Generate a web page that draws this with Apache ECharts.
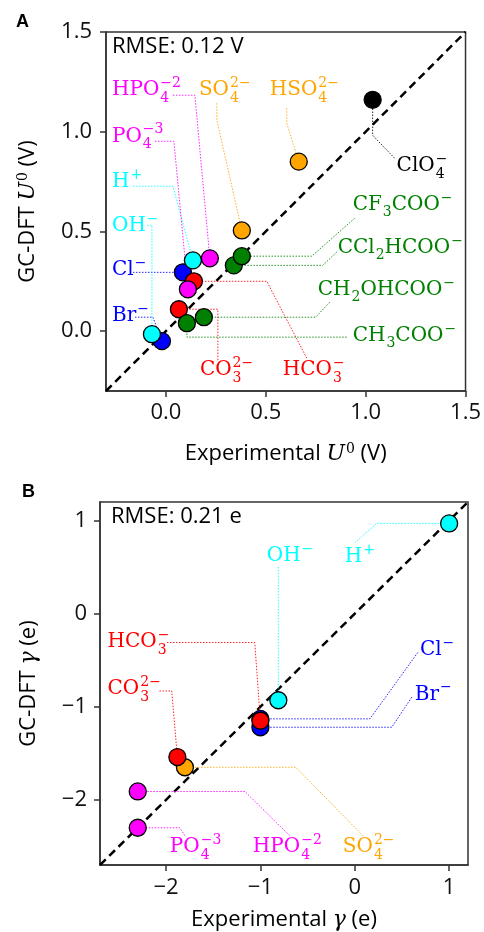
<!DOCTYPE html>
<html>
<head>
<meta charset="UTF-8">
<title>GC-DFT vs experiment</title>
<script src="https://cdn.jsdelivr.net/npm/echarts@6/dist/echarts.min.js"></script>
<style>
  html, body { margin: 0; padding: 0; background: #fff; }
  #main { width: 484px; height: 932px; }
</style>
</head>
<body>
<div id="main"></div>
<script>
// ---- panel A : standard potential U0 (V) ----
// label markup: {_x} = subscript, {^x} = superscript
var ionsA = ['Cl{^−}', 'Br{^−}', 'H{^+}', 'OH{^−}', 'CO{_3}{^2−}', 'HCO{_3}{^−}', 'PO{_4}{^−3}', 'HPO{_4}{^−2}',
  'CH{_3}COO{^−}', 'CH{_2}OHCOO{^−}', 'CCl{_2}HCOO{^−}', 'CF{_3}COO{^−}', 'SO{_4}{^2−}', 'HSO{_4}{^2−}', 'ClO{_4}{^−}'];
var groupA = ['halide', 'halide', 'water', 'water', 'carbonate', 'carbonate', 'phosphate', 'phosphate',
  'carboxylate', 'carboxylate', 'carboxylate', 'carboxylate', 'sulfate', 'sulfate', 'perchlorate'];
var expA = [0.085, -0.02, 0.135, -0.07, 0.065, 0.14, 0.11, 0.22, 0.105, 0.19, 0.34, 0.38, 0.38, 0.665, 1.035];
var dftA = [0.295, -0.05, 0.355, -0.015, 0.11, 0.25, 0.21, 0.365, 0.04, 0.07, 0.33, 0.376, 0.505, 0.85, 1.16];
var ticksA = [0, 0.5, 1.0, 1.5];

// ---- panel B : electrosorption valency gamma (e) ----
var ionsB = ['Cl{^−}', 'Br{^−}', 'SO{_4}{^2−}', 'OH{^−}', 'H{^+}', 'PO{_4}{^−3}', 'HPO{_4}{^−2}', 'CO{_3}{^2−}', 'HCO{_3}{^−}'];
var groupB = ['halide', 'halide', 'sulfate', 'water', 'water', 'phosphate', 'phosphate', 'carbonate', 'carbonate'];
var expB = [-1.0, -1.0, -1.8, -0.81, 1.0, -2.3, -2.3, -1.88, -1.0];
var dftB = [-1.13, -1.22, -1.65, -0.93, 0.97, -2.3, -1.91, -1.54, -1.15];
var ticksB = [-2, -1, 0, 1];

// annotation layout (data units): text anchor, leader start, leader elbow
var textPosA = [[-0.27, 0.306], [-0.27, 0.075], [-0.27, 0.747], [-0.27, 0.526], [0.17, -0.195], [0.585, -0.195],
  [-0.27, 0.977], [-0.27, 1.208], [0.935, -0.025], [0.76, 0.206], [0.86, 0.416], [0.935, 0.632],
  [0.165, 1.208], [0.52, 1.208], [1.155, 0.827]];
var leaderA = [[-0.165, 0.295, -0.165, 0.295], [-0.155, 0.07, -0.065, 0.07], [-0.165, 0.727, 0.035, 0.727],
  [-0.095, 0.531, -0.07, 0.531], [0.26, -0.145, 0.26, 0.11], [0.705, -0.135, 0.505, 0.25],
  [-0.055, 0.952, 0.04, 0.952], [0.035, 1.183, 0.145, 1.183], [0.905, -0.03, 0.105, -0.03],
  [0.82, 0.145, 0.75, 0.07], [0.855, 0.396, 0.785, 0.33], [0.945, 0.566, 0.73, 0.376],
  [0.255, 1.143, 0.255, 1.058], [0.605, 1.118, 0.605, 1.043], [1.145, 0.867, 1.035, 0.982]];
var textPosB = [[0.69, -0.385], [0.636, -0.866], [-0.127, -2.5], [-0.933, 0.62], [-0.106, 0.61],
  [-1.96, -2.5], [-1.08, -2.5], [-2.62, -0.81], [-2.62, -0.3]];
var leaderB = [[0.668, -0.417, 0.16, -1.13], [0.604, -0.898, 0.392, -1.22], [0.085, -2.385, -0.625, -1.65],
  [-0.81, 0.503, -0.81, 0.503], [0.0, 0.76, 0.233, 0.97], [-1.8, -2.385, -1.855, -2.3],
  [-0.69, -2.385, -1.165, -1.91], [-2.07, -0.83, -1.94, -0.83], [-1.99, -0.31, -1.06, -0.31]];

var colorOf = {
  halide: '#0000ff', water: '#00ffff', carbonate: '#ff0000', phosphate: '#ff00ff',
  carboxylate: '#008000', sulfate: '#ffa500', perchlorate: '#000000'
};

var SERIF = '"DejaVu Serif"';
var SANS = '"Open Sans"';
var measureCtx = document.createElement('canvas').getContext('2d');
function textWidth(s, size) {
  measureCtx.font = size + 'px ' + SERIF;
  return measureCtx.measureText(s).width;
}

// 'CO{_3}{^2−}' -> [{base:'CO'}, {sub:'3', sup:'2−'}]
function parseLabel(str) {
  var parts = [], re = /\{([_^])([^}]*)\}|([^{]+)/g, m;
  while ((m = re.exec(str))) {
    if (m[3]) { parts.push({ base: m[3] }); continue; }
    var last = parts[parts.length - 1];
    if (!last || last.base !== undefined) { last = {}; parts.push(last); }
    if (m[1] === '_') last.sub = m[2]; else last.sup = m[2];
  }
  return parts;
}

function txt(s, x, y, size, col) {
  return {
    type: 'text',
    style: {
      text: s, x: x, y: y, fill: col, font: size + 'px ' + SERIF,
      textAlign: 'left', textVerticalAlign: 'middle', align: 'left', verticalAlign: 'middle'
    }
  };
}

function labelRenderer(ions, groups) {
  return function (params, api) {
    var p = api.coord([api.value(0), api.value(1)]);
    var col = colorOf[groups[params.dataIndex]];
    var x = p[0], kids = [];
    parseLabel(ions[params.dataIndex]).forEach(function (pt) {
      if (pt.base !== undefined) {
        kids.push(txt(pt.base, x, p[1], 20, col));
        x += textWidth(pt.base, 20);
      } else {
        var w = 0;
        if (pt.sub) { kids.push(txt(pt.sub, x + 1, p[1] + (pt.sup ? 8.5 : 7), 14, col)); w = textWidth(pt.sub, 14); }
        if (pt.sup) { kids.push(txt(pt.sup, x + 1, p[1] - 6.5, 14, col)); w = Math.max(w, textWidth(pt.sup, 14)); }
        x += w + 1;
      }
    });
    return { type: 'group', children: kids };
  };
}

function leaderRenderer(leaders, groups) {
  return function (params, api) {
    var L = leaders[params.dataIndex];
    var pts = [api.coord([L[0], L[1]]), api.coord([L[2], L[3]]), api.coord([api.value(0), api.value(1)])];
    return {
      type: 'polyline',
      shape: { points: pts },
      style: { stroke: colorOf[groups[params.dataIndex]], lineWidth: 1, fill: null, lineDash: [1.5, 1.5], opacity: 0.85 }
    };
  };
}

function panelSeries(k, ions, groups, exp, dft, textPos, leaders, lo, hi) {
  var pts = exp.map(function (x, i) {
    return { value: [x, dft[i]], itemStyle: { color: colorOf[groups[i]] } };
  });
  return [
    {
      type: 'line', xAxisIndex: k, yAxisIndex: k, data: [[lo, lo], [hi, hi]],
      symbol: 'none', silent: true, z: 2,
      lineStyle: { color: '#000', width: 2.5, type: [8, 5] }
    },
    {
      type: 'custom', xAxisIndex: k, yAxisIndex: k, z: 3, silent: true,
      renderItem: leaderRenderer(leaders, groups),
      data: exp.map(function (x, i) { return [x, dft[i]]; })
    },
    {
      type: 'scatter', xAxisIndex: k, yAxisIndex: k, z: 4, symbolSize: 17,
      itemStyle: { borderColor: '#000', borderWidth: 1.3, opacity: 1 },
      data: pts
    },
    {
      type: 'custom', xAxisIndex: k, yAxisIndex: k, z: 5, silent: true,
      renderItem: labelRenderer(ions, groups),
      data: textPos
    }
  ];
}

function fmtA(v) { return v.toFixed(1); }
function fmtB(v) { return String(Math.round(v)).replace('-', '−'); }

var nameRich = {
  i: { fontFamily: SERIF, fontStyle: 'italic', fontSize: 22, color: '#000' },
  s: { fontFamily: SERIF, fontSize: 14, color: '#000', verticalAlign: 'top', padding: [0, 0, 10, 1] }
};

function axis(k, pos, lo, hi, ticks, fmt, name, gap, margin) {
  return {
    type: 'value', gridIndex: k, position: pos, min: lo, max: hi,
    name: name, nameLocation: 'middle', nameGap: gap,
    nameTextStyle: { fontFamily: SANS, fontSize: 22, color: '#000', rich: nameRich },
    axisLine: { show: true, onZero: false, lineStyle: { color: '#333', width: 1.5 } },
    axisTick: { show: true, customValues: ticks, length: 6, lineStyle: { color: '#333', width: 1.5 } },
    axisLabel: { customValues: ticks, formatter: fmt, margin: margin, fontFamily: SANS, fontSize: 22, color: '#111' },
    splitLine: { show: false }
  };
}

var chart = echarts.init(document.getElementById('main'), null, { renderer: 'canvas' });
chart.setOption({
  backgroundColor: '#fff',
  animation: false,
  grid: [
    { left: 106, top: 32, width: 360, height: 359, show: true, borderColor: '#333', borderWidth: 1.5 },
    { left: 100, top: 502, width: 368, height: 366, show: true, borderColor: '#333', borderWidth: 1.5 }
  ],
  xAxis: [
    axis(0, 'bottom', -0.3, 1.5, ticksA, fmtA, 'Experimental {i|U}{s|0} (V)', 51, 11),
    axis(1, 'bottom', -2.7, 1.2, ticksB, fmtB, 'Experimental {i|γ} (e)', 44, 12)
  ],
  yAxis: [
    axis(0, 'left', -0.3, 1.5, ticksA, fmtA, 'GC-DFT {i|U}{s|0} (V)', 66, 14),
    axis(1, 'left', -2.7, 1.2, ticksB, fmtB, 'GC-DFT {i|γ} (e)', 60, 13)
  ],
  graphic: [
    { type: 'text', left: 16, top: 13, style: { text: 'A', font: 'bold 18px "Liberation Sans"', fill: '#000' } },
    { type: 'text', left: 22, top: 483, style: { text: 'B', font: 'bold 18px "Liberation Sans"', fill: '#000' } },
    { type: 'text', left: 112, top: 36, style: { text: 'RMSE: 0.12 V', font: '22px ' + SANS, fill: '#000' } },
    { type: 'text', left: 111, top: 506, style: { text: 'RMSE: 0.21 e', font: '22px ' + SANS, fill: '#000' } }
  ],
  series: panelSeries(0, ionsA, groupA, expA, dftA, textPosA, leaderA, -0.3, 1.5)
    .concat(panelSeries(1, ionsB, groupB, expB, dftB, textPosB, leaderB, -2.7, 1.2))
});
</script>
</body>
</html>
